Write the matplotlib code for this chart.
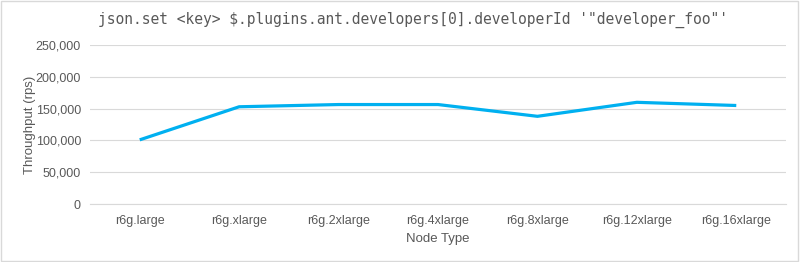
import matplotlib
matplotlib.use("Agg")
import matplotlib.pyplot as plt
from matplotlib.ticker import FuncFormatter
from matplotlib.patches import Rectangle

categories = ["r6g.large", "r6g.xlarge", "r6g.2xlarge", "r6g.4xlarge",
              "r6g.8xlarge", "r6g.12xlarge", "r6g.16xlarge"]
throughput = [101000, 153000, 156500, 156500, 138000, 160000, 155000]
yticks = [0, 50000, 100000, 150000, 200000, 250000]

title = "json.set <key> $.plugins.ant.developers[0].developerId '\"developer_foo\"'"

text_color = "#595959"
grid_color = "#d9d9d9"
line_color = "#00b0f0"

plt.rcParams['font.family'] = ['Liberation Sans', 'DejaVu Sans']

fig = plt.figure(figsize=(8, 2.62), dpi=100)
ax = fig.add_axes([0.1125, 0.221, 0.87, 0.607])

x = list(range(len(categories)))
ax.plot(x, throughput, color=line_color, linewidth=2.3, solid_capstyle='butt', zorder=3)

ax.set_xlim(-0.5, len(categories) - 0.5)
ax.set_ylim(0, 250000)
ax.set_yticks(yticks)
ax.yaxis.set_major_formatter(FuncFormatter(lambda v, p: f"{int(v):,}"))
ax.set_xticks(x)
ax.set_xticklabels(categories)
ax.grid(axis='y', color=grid_color, linewidth=0.8)
ax.set_axisbelow(True)
for s in ["top", "right", "left"]:
    ax.spines[s].set_visible(False)
ax.spines["bottom"].set_color(grid_color)
ax.spines["bottom"].set_linewidth(0.8)
ax.tick_params(axis='both', length=0, colors=text_color, labelsize=9)
ax.tick_params(axis='x', pad=8)
ax.tick_params(axis='y', pad=6.5)

ax.set_xlabel("Node Type", color=text_color, fontsize=9.5, labelpad=4)
ax.set_ylabel("Throughput (rps)", color=text_color, fontsize=9.5, labelpad=0)

fig.text(0.516, 0.923, title, ha='center', va='center', fontsize=10.5,
         color=text_color, family=['DejaVu Sans Mono'])

fig.patches.append(Rectangle((0.001, 0.002), 0.997, 0.995, transform=fig.transFigure,
                             fill=False, edgecolor=grid_color, linewidth=1))

fig.savefig("out.png", dpi=100)
